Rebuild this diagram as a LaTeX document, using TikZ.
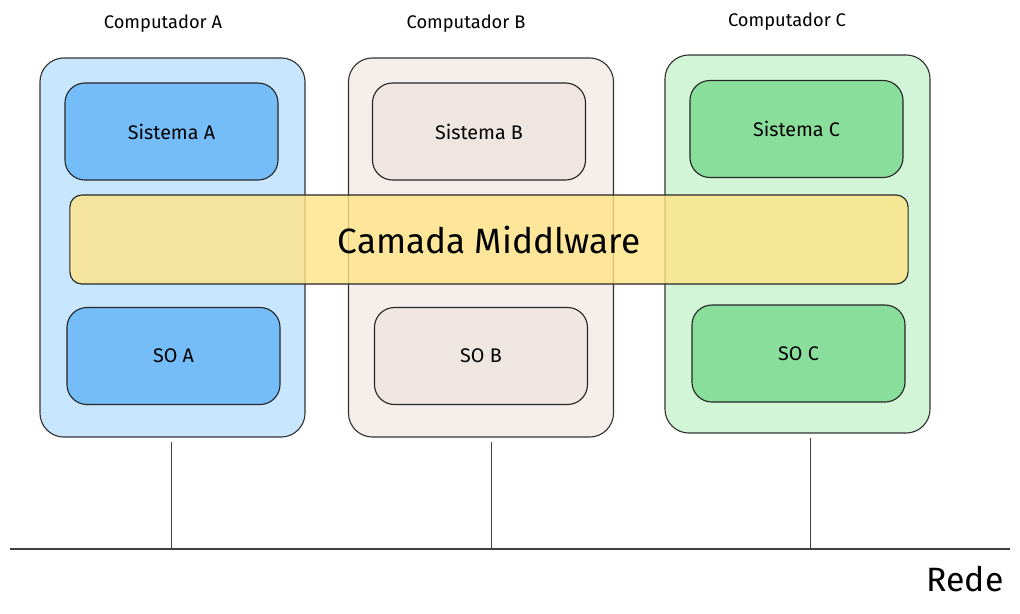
\documentclass[tikz,border=0pt]{standalone}
\usepackage{fontspec}
\setmainfont{Fira Sans}
\usetikzlibrary{positioning}

\definecolor{azulclaro}{HTML}{C9E6FF}
\definecolor{azul}{HTML}{74BDF8}
\definecolor{begeclaro}{HTML}{F5EEEA}
\definecolor{bege}{HTML}{EFE5E1}
\definecolor{verdeclaro}{HTML}{D2F5D8}
\definecolor{verde}{HTML}{8ADE9B}
\definecolor{amarelo}{HTML}{FFE485}

\begin{document}
\begin{tikzpicture}[
  x=0.025cm, y=-0.025cm,
  line width=0.8pt,
  comp/.style={draw=black!80, rounded corners=0.6cm, minimum width=6.625cm,
               minimum height=9.475cm, inner sep=0pt},
  sub/.style={draw=black!85, rounded corners=0.5cm, minimum width=5.325cm,
              minimum height=2.425cm, align=center,
              font=\fontsize{14}{16}\selectfont},
  midw/.style={draw=black!85, rounded corners=0.3cm, minimum width=20.95cm,
               minimum height=2.225cm, fill=amarelo, fill opacity=0.8,
               text opacity=1, font=\fontsize{25}{28}\selectfont},
  titulo/.style={font=\fontsize{13}{15}\selectfont},
  fio/.style={draw=black!75, line width=0.7pt}
]
\useasboundingbox (0,0) rectangle (1020,613);

% computadores
\node[comp, fill=azulclaro]  (compA) at (172.5,247.5) {};
\node[comp, fill=begeclaro]  (compB) at (481,247.5) {};
\node[comp, fill=verdeclaro, minimum height=9.45cm] (compC) at (797.5,244) {};

\node[titulo] (tA) at (163,24) {Computador A};
\node[titulo] (tB) at (466,24) {Computador B};
\node[titulo] (tC) at (787,22) {Computador C};

% sistemas e SOs
\node[sub, fill=azul]  (sisA) at (171.5,131.5) {Sistema A};
\node[sub, fill=azul]  (soA)  at (173.5,356) {SO A};
\node[sub, fill=bege]  (sisB) at (479,131.5) {Sistema B};
\node[sub, fill=bege]  (soB)  at (481,356) {SO B};
\node[sub, fill=verde] (sisC) at (796.5,129) {Sistema C};
\node[sub, fill=verde] (soC)  at (798.5,353.5) {SO C};

% middleware
\node[midw] (mid) at (489,239.5) {Camada Middlware};

% rede
\coordinate (redeE) at (10,549);
\coordinate (redeD) at (1010,549);
\draw[fio, line width=1pt] (redeE) -- (redeD);
\foreach \c/\dx in {compA/-1.5, compB/10, compC/12.5} {
  \draw[fio] ([xshift=\dx*0.025cm, yshift=-3pt]\c.south)
    -- ([xshift=\dx*0.025cm]\c.south |- redeE);
}
\node[font=\fontsize{24}{26}\selectfont] (rede) at (965,579) {Rede};
\end{tikzpicture}
\end{document}
